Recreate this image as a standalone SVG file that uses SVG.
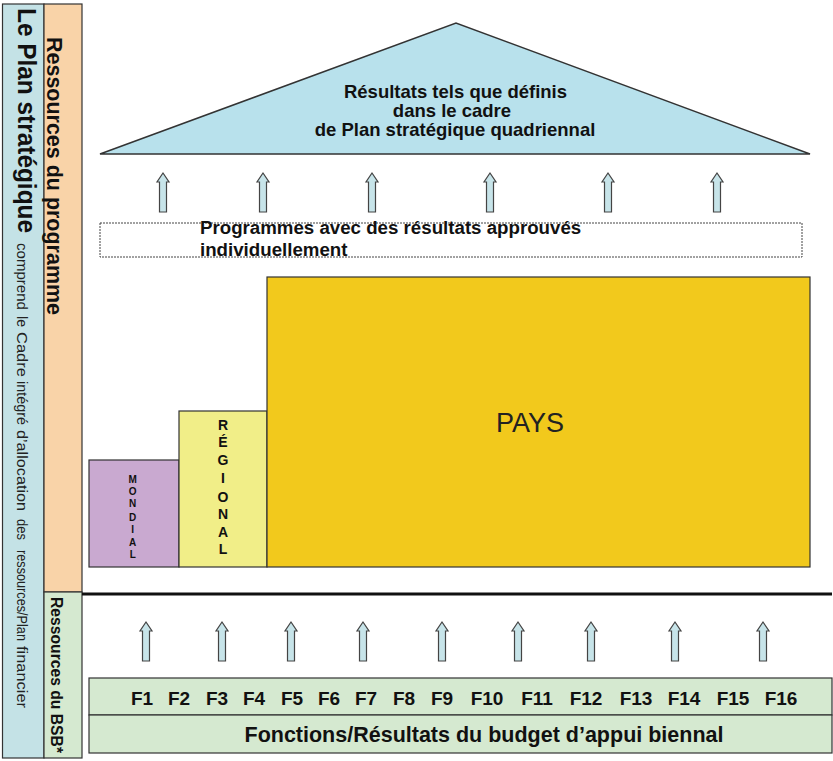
<svg xmlns="http://www.w3.org/2000/svg" xmlns:xlink="http://www.w3.org/1999/xlink" width="833" height="761" viewBox="0 0 833 761">
<style>
  .bd { font-family: "Liberation Sans", Arial, sans-serif; font-weight: bold; fill: #111; }
  .rg { font-family: "Liberation Sans", Arial, sans-serif; fill: #222; }
  .box { stroke: #333; stroke-width: 1.2; }
  .arrow { fill: #c7e4e9; stroke: #444; stroke-width: 1.2; }
</style>
<defs>
  <path id="up" d="M0,0 L6,9 L3.5,9 L3.5,39 L-3.5,39 L-3.5,9 L-6,9 Z"/>
</defs>
<rect width="833" height="761" fill="#ffffff"/>

<g id="plan-strategique">
  <rect x="2.5" y="4" width="41.5" height="754" fill="#c4e2e6" class="box"/>
  <text class="bd" font-size="26" textLength="225" lengthAdjust="spacingAndGlyphs" transform="translate(18,8) rotate(90)">Le Plan stratégique</text>
  <g class="rg" font-size="14" fill="#333">
    <text textLength="67" lengthAdjust="spacingAndGlyphs" transform="translate(17,243) rotate(90)">comprend</text>
    <text textLength="11" lengthAdjust="spacingAndGlyphs" transform="translate(17,316) rotate(90)">le</text>
    <text textLength="45" lengthAdjust="spacingAndGlyphs" transform="translate(17,332) rotate(90)">Cadre</text>
    <text textLength="44" lengthAdjust="spacingAndGlyphs" transform="translate(17,381) rotate(90)">intégré</text>
    <text textLength="81" lengthAdjust="spacingAndGlyphs" transform="translate(17,430) rotate(90)">d’allocation</text>
    <text textLength="21" lengthAdjust="spacingAndGlyphs" transform="translate(17,519) rotate(90)">des</text>
    <text textLength="91" lengthAdjust="spacingAndGlyphs" transform="translate(17,550) rotate(90)">ressources/Plan</text>
    <text textLength="62" lengthAdjust="spacingAndGlyphs" transform="translate(17,646) rotate(90)">financier</text>
  </g>
</g>

<g id="ressources-programme">
  <rect x="44" y="4" width="38" height="588" fill="#f9d3a8" class="box"/>
  <text class="bd" font-size="22" textLength="278" lengthAdjust="spacingAndGlyphs" transform="translate(47,37) rotate(90)">Ressources du programme</text>
</g>

<g id="ressources-bsb">
  <rect x="44" y="592" width="38" height="166" fill="#d5e9d0" class="box"/>
  <text class="bd" font-size="16" textLength="156" lengthAdjust="spacingAndGlyphs" transform="translate(51,597) rotate(90)">Ressources du BSB*</text>
</g>

<g id="resultats">
  <polygon points="100,154 456,23 810,154" fill="#b8e1ec" stroke="#333" stroke-width="1.5"/>
  <g class="bd" font-size="18.5" text-anchor="middle">
    <text x="455.5" y="98">Résultats tels que définis</text>
    <text x="452" y="117">dans le cadre</text>
    <text x="455" y="136">de Plan stratégique quadriennal</text>
  </g>
</g>

<g id="programmes">
  <rect x="100" y="223" width="702" height="34" fill="#ffffff" stroke="#444" stroke-width="1" stroke-dasharray="2,1"/>
  <text class="bd" font-size="18.7" x="200" y="234">Programmes avec des résultats approuvés</text>
  <text class="bd" font-size="18.7" x="200" y="256">individuellement</text>
</g>

<g id="mondial">
  <rect x="89" y="460" width="90" height="107" fill="#c9a9d0" class="box"/>
  <g class="bd" font-size="10" text-anchor="middle">
    <text x="132.7" y="482.7">M</text>
    <text x="132.7" y="495">O</text>
    <text x="132.7" y="507">N</text>
    <text x="132.7" y="520.5">D</text>
    <text x="132.7" y="532.7">I</text>
    <text x="132.7" y="546">A</text>
    <text x="132.7" y="558.3">L</text>
  </g>
</g>

<g id="regional">
  <rect x="179" y="411" width="88" height="156" fill="#f1ee88" class="box"/>
  <g class="bd" font-size="14" text-anchor="middle">
    <text x="223" y="430">R</text>
    <text x="223" y="447">É</text>
    <text x="223" y="465">G</text>
    <text x="223" y="483">I</text>
    <text x="223" y="501.5">O</text>
    <text x="223" y="518.5">N</text>
    <text x="223" y="536.5">A</text>
    <text x="223" y="553.5">L</text>
  </g>
</g>

<g id="pays">
  <rect x="267" y="277" width="543" height="290" fill="#f2c91c" class="box"/>
  <text class="rg" font-size="27" x="530" y="432" text-anchor="middle" fill="#111">PAYS</text>
</g>

<g id="separateur">
  <line x1="82" y1="594" x2="832" y2="594" stroke="#111" stroke-width="3"/>
</g>

<g id="fonctions">
  <rect x="89" y="678" width="743" height="37" fill="#d5e9d0" class="box"/>
  <g class="bd" font-size="19" text-anchor="middle">
    <text x="142" y="704.5">F1</text>
    <text x="179" y="704.5">F2</text>
    <text x="217" y="704.5">F3</text>
    <text x="254" y="704.5">F4</text>
    <text x="292" y="704.5">F5</text>
    <text x="329" y="704.5">F6</text>
    <text x="366" y="704.5">F7</text>
    <text x="404" y="704.5">F8</text>
    <text x="442" y="704.5">F9</text>
    <text x="487" y="704.5">F10</text>
    <text x="537" y="704.5">F11</text>
    <text x="586" y="704.5">F12</text>
    <text x="636" y="704.5">F13</text>
    <text x="684" y="704.5">F14</text>
    <text x="733" y="704.5">F15</text>
    <text x="781" y="704.5">F16</text>
  </g>
</g>

<g id="budget">
  <rect x="89" y="715" width="743" height="38" fill="#d5e9d0" class="box"/>
  <text class="bd" font-size="21.5" x="484" y="742" text-anchor="middle">Fonctions/Résultats du budget d’appui biennal</text>
</g>

<g id="connectors" class="arrow">
  <use xlink:href="#up" transform="translate(163,173)"/>
  <use xlink:href="#up" transform="translate(263,173)"/>
  <use xlink:href="#up" transform="translate(372,173)"/>
  <use xlink:href="#up" transform="translate(490,173)"/>
  <use xlink:href="#up" transform="translate(608,173)"/>
  <use xlink:href="#up" transform="translate(717,173)"/>
  <use xlink:href="#up" transform="translate(146,622)"/>
  <use xlink:href="#up" transform="translate(222,622)"/>
  <use xlink:href="#up" transform="translate(291,622)"/>
  <use xlink:href="#up" transform="translate(363,622)"/>
  <use xlink:href="#up" transform="translate(442,622)"/>
  <use xlink:href="#up" transform="translate(518,622)"/>
  <use xlink:href="#up" transform="translate(591,622)"/>
  <use xlink:href="#up" transform="translate(675,622)"/>
  <use xlink:href="#up" transform="translate(763,622)"/>
</g>
</svg>
